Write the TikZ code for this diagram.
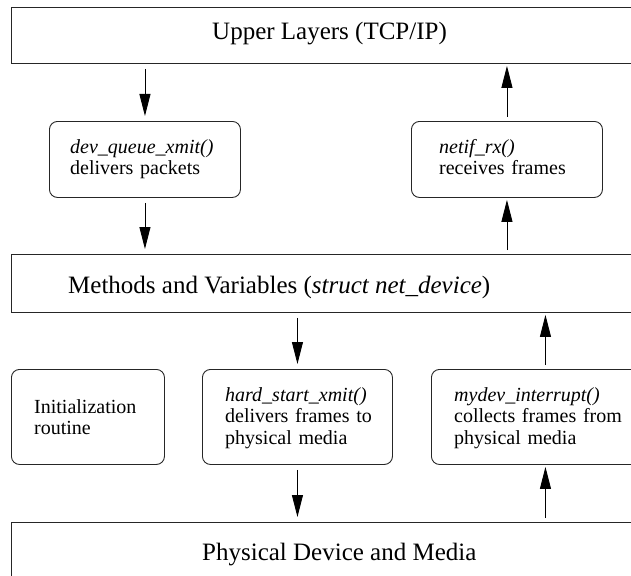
\documentclass[tikz,border=0pt]{standalone}
\usepackage{fontspec}
\setmainfont{Liberation Serif}
\usetikzlibrary{arrows.meta}

\tikzset{
  layer/.style={draw=black!85, line width=0.9pt, rectangle, inner sep=0pt, anchor=north west},
  func/.style={draw=black!85, line width=0.9pt, rectangle, rounded corners=8pt, inner sep=0pt, anchor=north west},
  bigtext/.style={inner sep=0pt, anchor=base west, font=\fontsize{25}{30}\selectfont},
  smalltext/.style={inner sep=0pt, anchor=base west, align=left, text width=190pt,
    font=\fontsize{20}{21.5}\selectfont},
  flow/.style={line width=0.9pt, -{Triangle[length=22pt, width=11pt]}},
  down/.style={flow, shorten <=5pt, shorten >=5pt},
  up/.style={flow, shorten <=4pt, shorten >=2pt}
}

\begin{document}
\begin{tikzpicture}[x=1pt, y=-1pt]
  \useasboundingbox (0,0) rectangle (631,575);
  \clip (0,0) rectangle (631,575);

  % layers spanning the width
  \node[layer, minimum width=640pt, minimum height=56pt] (upper)   at (10.5,7)   {};
  \node[layer, minimum width=640pt, minimum height=58pt] (methods) at (11,254)   {};
  \node[layer, minimum width=640pt, minimum height=58pt] (phys)    at (10.5,522) {};

  % routines
  \node[func, minimum width=191pt, minimum height=76pt] (dev)   at (49,121)  {};
  \node[func, minimum width=191pt, minimum height=76pt] (netif) at (411,121) {};
  \node[func, minimum width=153pt, minimum height=95pt] (init)  at (11,369)  {};
  \node[func, minimum width=190pt, minimum height=95pt] (hard)  at (202,369) {};
  \node[func, minimum width=228pt, minimum height=95pt] (mydev) at (431,369) {};

  % labels
  \node[bigtext] (upperlbl)   at (212,40)  {Upper Layers (TCP/IP)};
  \node[bigtext] (methodslbl) at (68,293)  {Methods and Variables ({\itshape struct net\_device})};
  \node[bigtext] (physlbl)    at (202,560) {Physical Device and Media};

  \node[smalltext] (devlbl)   at (70,153)  {\textit{dev\_queue\_xmit()}\\delivers packets};
  \node[smalltext] (netiflbl) at (439,153) {\textit{netif\_rx()}\\receives frames};
  \node[smalltext] (initlbl)  at (34,413)  {Initialization\\routine};
  \node[smalltext] (hardlbl)  at (225,401) {\textit{hard\_start\_xmit()}\\delivers frames to\\physical media};
  \node[smalltext] (mydevlbl) at (454,401) {\textit{mydev\_interrupt()}\\collects frames from\\physical media};

  % transmit path
  \draw[down] (upper.south -| dev.north) -- (dev.north);
  \draw[down] (dev.south) -- (methods.north -| dev.south);
  \draw[down] (methods.south -| hard.north) -- (hard.north);
  \draw[down] (hard.south) -- (phys.north -| hard.south);

  % receive path
  \draw[up] (netif.north) -- (upper.south -| netif.north);
  \draw[up] (methods.north -| netif.south) -- (netif.south);
  \draw[up] (mydev.north) -- (methods.south -| mydev.north);
  \draw[up] (phys.north -| mydev.south) -- (mydev.south);
\end{tikzpicture}
\end{document}
